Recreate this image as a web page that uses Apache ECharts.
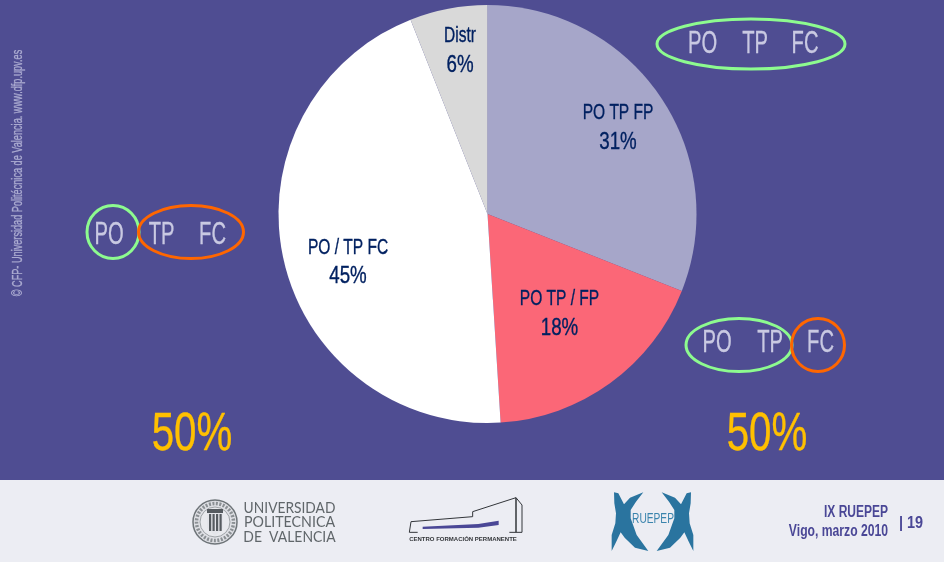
<!DOCTYPE html>
<html><head><meta charset="utf-8">
<style>html,body{margin:0;padding:0;background:#4f4d92}#c{width:944px;height:562px}</style>
<script src="https://cdn.jsdelivr.net/npm/echarts@6/dist/echarts.min.js"></script>
</head><body><div id="c"></div>
<script>
const categories = ['PO TP FP', 'PO TP / FP', 'PO / TP FC', 'Distr'];
const shares = [31, 18, 45, 6];
const groupTotals = ['50%', '50%'];
const footerLines = ['IX RUEPEP', 'Vigo, marzo 2010', '| 19'];

const FONT = '"Liberation Sans",sans-serif';
const sliceColors = ['#a6a6c9', '#fb6777', '#ffffff', '#d9d9d9'];
const labelCentres = [[618, 127.5], [559.5, 313.5], [348, 262], [460, 50.5]];

const chart = echarts.init(document.getElementById('c'), null, {renderer: 'canvas'});

function txt(t, x, y, size, color, scaleX, extra) {
  return Object.assign({
    type: 'text', x, y, scaleX: scaleX || 1, silent: true, z: 20,
    style: {text: t, fill: color, stroke: color, lineWidth: 0.35, font: size + 'px ' + FONT,
            align: 'center', verticalAlign: 'middle'}
  }, extra || {});
}
function ring(cx, cy, rx, ry, color) {
  return {type: 'ellipse', silent: true, z: 15, shape: {cx, cy, rx, ry},
          style: {fill: 'none', stroke: color, lineWidth: 3}};
}
const GREEN = '#8dfb8f', ORANGE = '#ff6600', SOFT = '#c9c9e2', GOLD = '#ffc000', INK = '#4a4796', NAVY = '#002060';

const z1 = p => p.map(([x, y]) => [150 + x / 3, 480 + y / 3]);
const zx = p => p.map(([x, y]) => [600 + x / 3, 485 + y / 3]);
const poly = (pts, fill) => ({type: 'polygon', silent: true, z: 12, shape: {points: pts}, style: {fill}});
const line = (pts, color, w) => ({type: 'polyline', silent: true, z: 12, shape: {points: pts},
                                  style: {fill: 'none', stroke: color, lineWidth: w}});

const BLUE = '#2a749f', GREY = '#60666a';
const leftX = [[42,22],[55,25],[72,58],[90,38],[130,22],[108,50],[92,75],[92,100],[110,150],[145,198],[105,188],[74,158],[62,142],[48,172],[35,198],[35,150],[46,115],[48,85],[43,55]];
const rightX = leftX.map(([x, y]) => [315 - x, y]);

const sliceTexts = categories.flatMap((name, i) => {
  const [x, y] = labelCentres[i];
  return [
    txt(name, x, y - 14.5, 22.5, NAVY, 0.69),
    txt(shares[i] + '%', x, y + 14.5, 24, NAVY, 0.78)
  ];
});

const graphic = [
  {type: 'rect', silent: true, z: 1, shape: {x: 0, y: 480, width: 944, height: 82}, style: {fill: '#ecedf3'}},

  txt('© CFP- Universidad Politécnica de Valencia. www.dfp.upv.es', 17.5, 173, 15, '#aaaad0', 0.61, {rotation: Math.PI / 2}),

  ring(113, 232, 26, 26.5, GREEN),
  ring(191, 232, 52.5, 26.5, ORANGE),
  txt('PO', 109, 235.5, 31, SOFT, 0.65),
  txt('TP', 161.5, 235.5, 31, SOFT, 0.65),
  txt('FC', 212.5, 235.5, 31, SOFT, 0.65),

  ring(751, 44, 94, 25, GREEN),
  txt('PO', 702.5, 44, 31, SOFT, 0.65),
  txt('TP', 755, 44, 31, SOFT, 0.65),
  txt('FC', 805, 44, 31, SOFT, 0.65),

  ring(739, 345, 53, 26.5, GREEN),
  ring(818, 345, 26.5, 26.5, ORANGE),
  txt('PO', 717, 343.5, 31, SOFT, 0.65),
  txt('TP', 770, 343.5, 31, SOFT, 0.65),
  txt('FC', 820.5, 343.5, 31, SOFT, 0.65),

  txt(groupTotals[0], 192, 435, 53, GOLD, 0.76),
  txt(groupTotals[1], 767, 435, 53, GOLD, 0.76),

  ...sliceTexts,

  // UPV seal
  {type: 'circle', silent: true, z: 12, shape: {cx: 215, cy: 522, r: 22}, style: {fill: '#dfe0e5', stroke: '#6f7579', lineWidth: 1.5}},
  {type: 'circle', silent: true, z: 12, shape: {cx: 215, cy: 522, r: 18.5}, style: {fill: 'none', stroke: '#8b9094', lineWidth: 3.5, lineDash: [2, 1.5]}},
  {type: 'circle', silent: true, z: 12, shape: {cx: 215, cy: 522, r: 15}, style: {fill: '#e9eaee', stroke: '#8b9094', lineWidth: 0.8}},
  poly([[207, 511], [223, 511], [223, 528], [215, 536], [207, 528]], '#e4e5ea'),
  ...[209, 212.5, 216, 219.5].map(x => ({type: 'rect', silent: true, z: 13, shape: {x, y: 514, width: 2.2, height: 17}, style: {fill: '#565b60'}})),
  {type: 'rect', silent: true, z: 13, shape: {x: 207, y: 509, width: 16, height: 4}, style: {fill: '#565b60'}},
  txt('UNIVERSIDAD', 289.5, 508, 14.5, GREY, 0.95, {style: {text: 'UNIVERSIDAD', fill: GREY, font: '14.5px Lato', align: 'center', verticalAlign: 'middle'}}),
  txt('POLITECNICA', 289.5, 522, 14.5, GREY, 0.98, {style: {text: 'POLITECNICA', fill: GREY, font: '14.5px Lato', align: 'center', verticalAlign: 'middle'}}),
  txt('DE VALENCIA', 289.5, 537, 14.5, GREY, 0.96, {style: {text: 'DE  VALENCIA', fill: GREY, font: '14.5px Lato', align: 'center', verticalAlign: 'middle'}}),

  // building mark
  line(z1([[803, 157], [778, 157], [783, 125], [968, 110], [968, 95], [1098, 53], [1116, 75], [1116, 157], [1078, 157]]), '#33363a', 1),
  line(z1([[1098, 53], [1098, 157]]), '#33363a', 1.5),
  poly(z1([[818, 140], [985, 132], [1046, 122], [1046, 135], [985, 143], [818, 147]]), '#4a4796'),
  {type: 'text', x: 463, y: 539, silent: true, z: 12, style: {text: 'CENTRO FORMACIÓN PERMANENTE', fill: '#33363a', font: 'bold 6px "Liberation Sans"', align: 'center', verticalAlign: 'middle'}},

  // RUEPEP X mark
  poly(zx(leftX), BLUE),
  poly(zx(rightX), BLUE),
  {type: 'text', x: 653, y: 519, scaleX: 0.68, silent: true, z: 14, style: {text: 'RUEPEP', fill: '#3a84ad', font: '15px ' + FONT, align: 'center', verticalAlign: 'middle'}},

  // footer caption
  {type: 'text', x: 888, y: 513, scaleX: 0.75, silent: true, z: 14, style: {text: footerLines[0], fill: INK, font: 'bold 16px ' + FONT, align: 'right', verticalAlign: 'middle'}},
  {type: 'text', x: 888, y: 532, scaleX: 0.76, silent: true, z: 14, style: {text: footerLines[1], fill: INK, font: 'bold 16px ' + FONT, align: 'right', verticalAlign: 'middle'}},
  {type: 'text', x: 899, y: 523, scaleX: 0.85, silent: true, z: 14, style: {text: footerLines[2], fill: INK, font: 'bold 17px ' + FONT, align: 'left', verticalAlign: 'middle'}}
];

chart.setOption({
  animation: false,
  backgroundColor: '#4f4d92',
  graphic: {elements: graphic},
  series: [{
    type: 'pie',
    center: [487.5, 214],
    radius: 209,
    startAngle: 90,
    clockwise: true,
    silent: true,
    label: {show: false},
    labelLine: {show: false},
    data: categories.map((name, i) => ({
      name,
      value: shares[i],
      itemStyle: {color: sliceColors[i]}
    }))
  }]
});
</script></body></html>
